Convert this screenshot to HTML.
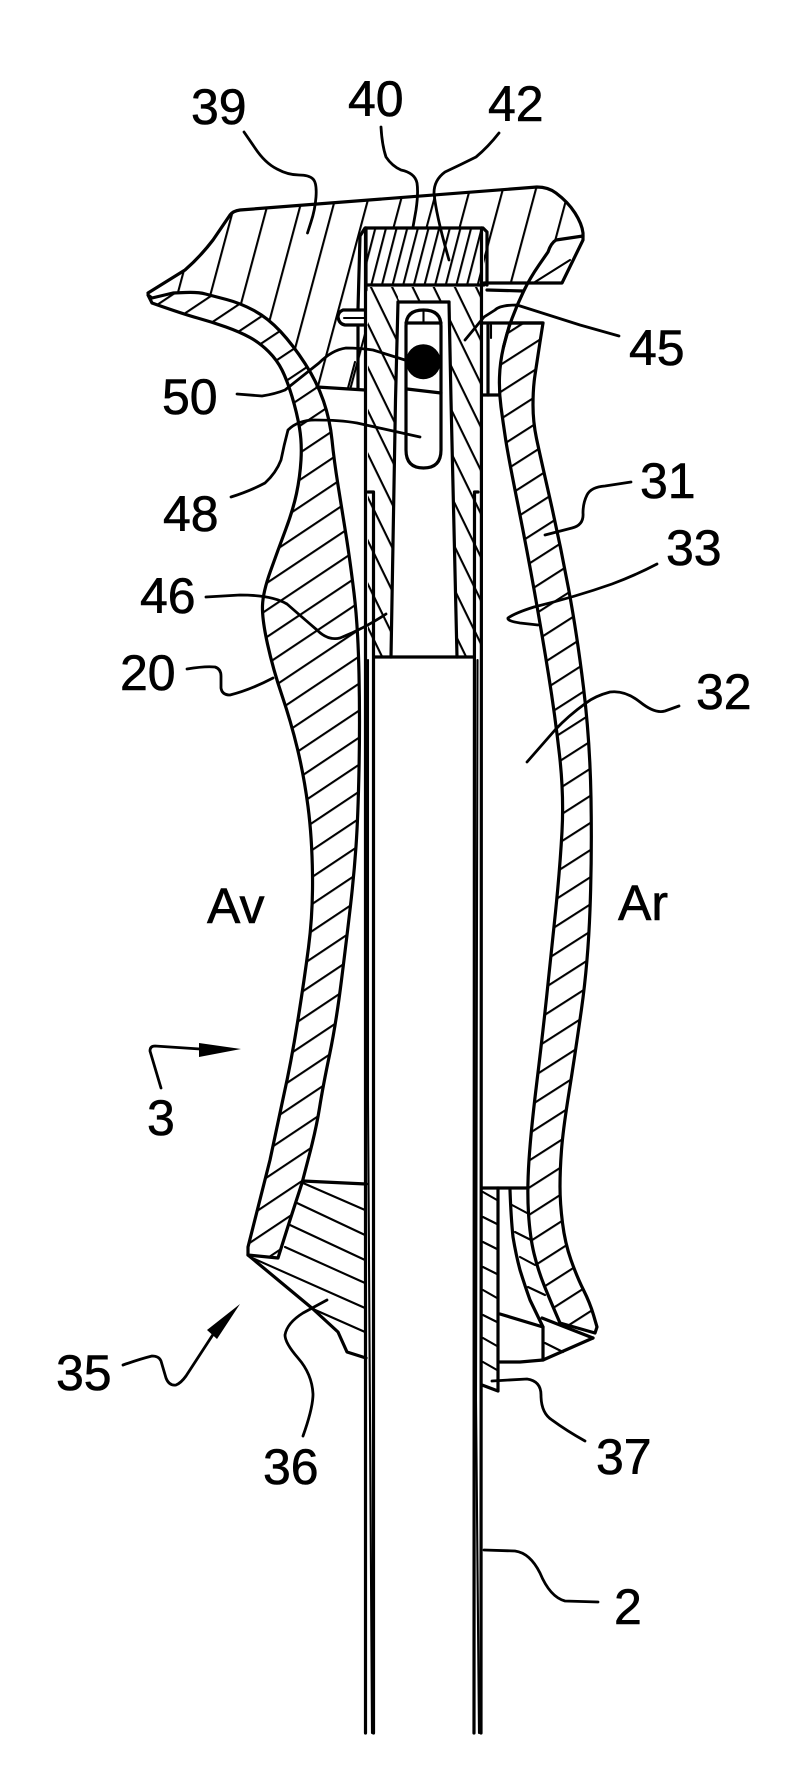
<!DOCTYPE html>
<html>
<head>
<meta charset="utf-8">
<style>
html,body{margin:0;padding:0;background:#fff;width:786px;height:1771px;overflow:hidden}
svg{display:block}
text{font-family:"Liberation Sans",sans-serif;font-size:50px;fill:#000;stroke:#000;stroke-width:.6}
.m{fill:none;stroke:#000;stroke-width:3.2;stroke-linejoin:round;stroke-linecap:round}
.l{fill:none;stroke:#000;stroke-width:2.8;stroke-linejoin:round;stroke-linecap:round}
.t{fill:none;stroke:#000;stroke-width:2.1;stroke-linecap:round}
</style>
</head>
<body>
<svg width="786" height="1771" viewBox="0 0 786 1771" xmlns="http://www.w3.org/2000/svg">
<defs>
<pattern id="hL" width="22.48" height="22.48" patternUnits="userSpaceOnUse" patternTransform="translate(312.5,848.5) rotate(-33.7)"><rect width="22.48" height="2.1"/></pattern>
<pattern id="hR" width="22.86" height="22.86" patternUnits="userSpaceOnUse" patternTransform="translate(560,1221) rotate(-32.6)"><rect width="22.86" height="2.1"/></pattern>
<pattern id="hC" width="31.9" height="31.9" patternUnits="userSpaceOnUse" patternTransform="translate(366,203) rotate(-75)"><rect width="31.9" height="2.1"/></pattern>
<pattern id="hI" width="10.3" height="10.3" patternUnits="userSpaceOnUse" patternTransform="translate(381.7,281.7) rotate(-75.5)"><rect width="10.3" height="2.1"/></pattern>
<pattern id="hP" width="19" height="19" patternUnits="userSpaceOnUse" patternTransform="translate(368,322) rotate(64)"><rect width="19" height="2.1"/></pattern>
<pattern id="hQ" width="19" height="19" patternUnits="userSpaceOnUse" patternTransform="translate(450,318) rotate(64)"><rect width="19" height="2.1"/></pattern>
</defs>
<rect width="786" height="1771" fill="#fff"/>

<!-- cap 39 hatch -->
<path d="M148 293 L185 270 L213 240 L230 215 Q233 211 240 210 L537 187 Q548 187 556 193 L575 213 L583 233 L580 237 L556 240 L548 252 L539 265 L530 283 L484 283 L484 227 L365 227 L365 389 L317 387 L293 345 L268 318 L240 303 L213 296 L198 292 L173 293 L152 298 Z" fill="url(#hC)"/>
<path class="m" d="M148 293 L185 270 Q200 257 213 240 L230 215 Q233 211 240 210 L537 187 Q548 187 556 193 Q568 202 575 213 Q582 224 583 233 L583 240 L562 283 L484 283"/>
<path class="t" d="M570 260 L535 282"/>

<!-- insert 42 -->
<rect x="366" y="228" width="117" height="57" fill="#fff"/>
<rect x="366" y="228" width="117" height="57" fill="url(#hI)"/>
<path class="m" d="M358 309 L360 236 L365 228 L483 228 L487 232 L487 285"/>
<path class="m" d="M366 228 L366 290"/>
<path class="m" d="M368 285 L484 285"/>
<path class="m" d="M487 290 L523 291"/>

<!-- right wall 31 -->
<path d="M510 323 L543 323 L540 342 Q537 362 535 375 T533 405 T536.5 438.5 T550 499 T568.5 588.5 T583.5 687.5 T591 798.5 T590 909.5 T581.5 1009 T569 1092.5 T561.5 1150 T560 1186.5 T562.5 1223 T571 1260 T583.5 1290 T593.5 1315 L597 1327 L595 1333 L560 1323 Q550 1300 544 1285 T534 1253.5 T528.5 1213.5 T529 1160 T536.5 1085 T546.5 998 T555.5 912 T562 831.5 T559.5 755 T548.5 674.5 T534.5 592 T517.5 502.5 T505.5 438.5 T501 407 T499.5 377 T503.5 347 Z" class="m" style="fill:url(#hR)"/>
<path class="m" d="M503.5 347 Q507 332 512 318.5 T523.5 291.5 T539 265 L548 252 Q551 243 556 240 L583 236"/>

<!-- left wall 20 -->
<path d="M148 295 L152 303 Q183 314 197.5 318 T226 327 T250 337.5 T268.5 351.5 T282 370 T292 396.5 T299.5 428 T301 460 T296.5 493.5 T285.5 530 T270.5 571 T262.5 605.5 T267.5 644 T282 695.5 T297.5 749 T308 806.5 T312.5 875 T308.5 947.5 T297.5 1022.5 T283.5 1096.5 L270 1160 L248 1247 L248 1255 L278 1258 L290 1220 L302 1183 L308 1160 Q316 1130 319.5 1108 T329.5 1055 T341.5 980 T350.5 905.5 T356 846.5 T359 770 T359 674 T354 593 T346 535 T338 485 T332 440 T323.5 401 T305 363.5 T280.5 331.5 T254 310.5 T226.5 299.5 T205.5 294 T185.5 292.5 L173 293 L152 298 Z" fill="#fff"/>
<path d="M148 295 L152 303 Q183 314 197.5 318 T226 327 T250 337.5 T268.5 351.5 T282 370 T292 396.5 T299.5 428 T301 460 T296.5 493.5 T285.5 530 T270.5 571 T262.5 605.5 T267.5 644 T282 695.5 T297.5 749 T308 806.5 T312.5 875 T308.5 947.5 T297.5 1022.5 T283.5 1096.5 L270 1160 L248 1247 L248 1255 L278 1258 L290 1220 L302 1183 L308 1160 Q316 1130 319.5 1108 T329.5 1055 T341.5 980 T350.5 905.5 T356 846.5 T359 770 T359 674 T354 593 T346 535 T338 485 T332 440 T323.5 401 T305 363.5 T280.5 331.5 T254 310.5 T226.5 299.5 T205.5 294 T185.5 292.5 L173 293 L152 298 Z" class="m" style="fill:url(#hL)"/>

<!-- right connections -->
<path class="m" d="M482 323 L543 323"/>
<path class="m" d="M482 395 L499 395"/>
<path class="m" d="M488 325 L488 395"/>
<path class="t" d="M491 325 L491 338"/>

<!-- left connections -->
<path class="m" d="M317 387 L365 390"/>
<path class="m" d="M358 327 L358 389"/>
<path class="t" d="M355 362 L348 388"/>
<path class="m" d="M365 310 L343 310 Q338 312 338 317 Q339 324 345 325 L366 325"/>
<path class="t" d="M344 318 L366 318"/>

<!-- plug columns -->
<path d="M368 287 L398 287 L398 302 L395.5 400 L391 657 L368 657 Z" style="fill:url(#hP)"/>
<path d="M398 287 L481 287 L481 657 L457.5 657 L451 400 L449 302 L398 302 Z" style="fill:url(#hQ)"/>
<path class="m" d="M398 302 L449 302"/>
<path class="m" d="M398 302 L395.5 400 L391 657"/>
<path class="m" d="M449 302 L451 400 L457 657"/>

<!-- slot -->
<path class="m" d="M406 326 Q406 310 423.5 310 Q441 310 441 326 L441 450 Q441 468 423.5 468 Q406 468 406 450 Z" style="fill:#fff"/>
<path class="m" d="M406 323 L441 323"/>
<path class="m" d="M407 389 L441 393"/>
<path class="t" d="M423.5 311 L423.5 323"/>
<circle cx="423.3" cy="361.7" r="17.5" fill="#000"/>

<!-- shaft -->
<path class="m" d="M365.5 228 L365.5 1733"/>
<path class="m" d="M481.5 228 L481 1733"/>
<path class="m" d="M368 492 L373.5 492 L373.5 1733"/>
<path class="m" d="M478 492 L474.5 492 L474 1733"/>
<path class="t" d="M368 660 L368 1100 L372 1733"/>
<path class="t" d="M477.5 660 L476 1400 L479 1733"/>
<path class="m" d="M375 657 L473 657"/>

<!-- block 36 -->
<path class="m" d="M303 1181 L366 1184"/>
<path class="m" d="M248 1255 L313 1309 L338 1332 L347 1352 L366 1358"/>
<path class="t" d="M303 1183 L365 1210"/>
<path class="t" d="M297 1203 L365 1235"/>
<path class="t" d="M290 1225 L365 1260"/>
<path class="t" d="M285 1247 L365 1283"/>
<path class="t" d="M250 1257 L365 1308"/>
<path class="t" d="M313 1309 L365 1332"/>

<!-- bottom right parts -->
<path class="m" d="M482 1188 L527 1188"/>
<path class="m" d="M498 1188 L498 1391 L482 1385"/>
<path class="t" d="M483 1192 L497 1200"/>
<path class="t" d="M483 1217 L497 1224"/>
<path class="t" d="M483 1242 L497 1249"/>
<path class="t" d="M483 1267 L497 1274"/>
<path class="t" d="M483 1290 L497 1298"/>
<path class="t" d="M483 1315 L497 1322"/>
<path class="t" d="M483 1338 L497 1346"/>
<path class="t" d="M483 1362 L497 1370"/>
<path class="t" d="M512 1205 L527 1213"/>
<path class="t" d="M515 1232 L531 1240"/>
<path class="t" d="M520 1257 L535 1265"/>
<path class="t" d="M528 1287 L545 1295"/>
<path class="t" d="M545 1343 L563 1352"/>
<path class="m" d="M510 1190 Q511 1218 513 1237 Q516 1255 520 1270 Q525 1286 530 1300 L543 1327 L543 1360"/>
<path class="m" d="M500 1314 L543 1327"/>
<path class="m" d="M500 1362 L520 1362 L543 1360 L593 1338"/>
<path class="m" d="M542 1318 L593 1338"/>

<!-- leaders -->
<path class="l" d="M244 132 L255 148 Q265 163 277 169 Q288 175 299 175 Q309 175 313 179 Q317 183 316 197 Q315 210 311 222 L307.5 233"/>
<path class="l" d="M381 127 Q382 145 386 157 Q392 166 401 170 Q415 173 417 183 Q418.5 193 416 210 L413 227"/>
<path class="l" d="M499 133 Q488 147 476 157 Q460 165 445 172 Q434 180 434 193 Q436 215 449 260"/>
<path class="l" d="M465 340 L484 317 L495 310 Q500 305 517 305 L580 325 L619 336"/>
<path class="l" d="M237 394 L262 396 Q275 394 285 390 Q300 378 319 363 Q332 350 346 348 Q360 348 373 350 L405 360"/>
<path class="l" d="M231 497 Q250 491 265 483 Q276 473 281 460 Q284 445 288 430 Q298 420 315 420 Q340 420 357 423 L420 437"/>
<path class="l" d="M631 482 L605 486 Q591 487 587 495 Q583 503 583 513 Q584 525 572 528 L545 535"/>
<path class="l" d="M657 564 Q636 575 612 584 Q575 597 534 607 Q515 613 508 618 Q507 621 520 623 L538 625"/>
<path class="l" d="M679 706 L665 711 Q655 714 640 702 Q625 690 610 692 Q595 696 586 703 Q568 716 555 730 L527 762"/>
<path class="l" d="M206 597 L240 595 Q272 595 287 604 Q303 618 317 630 Q328 641 340 638 Q365 628 386 614"/>
<path class="l" d="M187 669 Q205 666 215 667 Q221 669 221 676 L221 688 Q222 695 230 695 Q250 690 273 678"/>
<path class="l" d="M161 1088 L150 1051 Q150 1046 155 1046 L200 1049"/>
<path class="l" d="M123 1365 Q140 1359 152 1356 Q159 1356 161 1361 L166 1378 Q169 1386 176 1385 Q181 1383 186 1376 L214 1333"/>
<path class="l" d="M303 1436 Q313 1408 313 1394 Q312 1374 298 1358 Q285 1343 285 1335 Q287 1323 303 1313 L327 1300"/>
<path class="l" d="M492 1381 L527 1379 Q541 1381 541 1395 Q541 1413 552 1420 Q567 1431 585 1441"/>
<path class="l" d="M484 1550 L515 1551 Q530 1553 540 1573 Q550 1597 565 1601 L598 1602"/>
<polygon points="241,1049 199,1043 199,1057"/>
<polygon points="240,1304 207,1330 217,1339"/>

<!-- labels -->
<text x="191" y="124">39</text>
<text x="348" y="116">40</text>
<text x="488" y="121">42</text>
<text x="629" y="365">45</text>
<text x="162" y="414">50</text>
<text x="163" y="531">48</text>
<text x="640" y="498">31</text>
<text x="666" y="565">33</text>
<text x="140" y="613">46</text>
<text x="120" y="690">20</text>
<text x="696" y="709">32</text>
<text x="207" y="923">Av</text>
<text x="618" y="920">Ar</text>
<text x="147" y="1135">3</text>
<text x="56" y="1390">35</text>
<text x="263" y="1484">36</text>
<text x="596" y="1474">37</text>
<text x="614" y="1624">2</text>
</svg>
</body>
</html>
